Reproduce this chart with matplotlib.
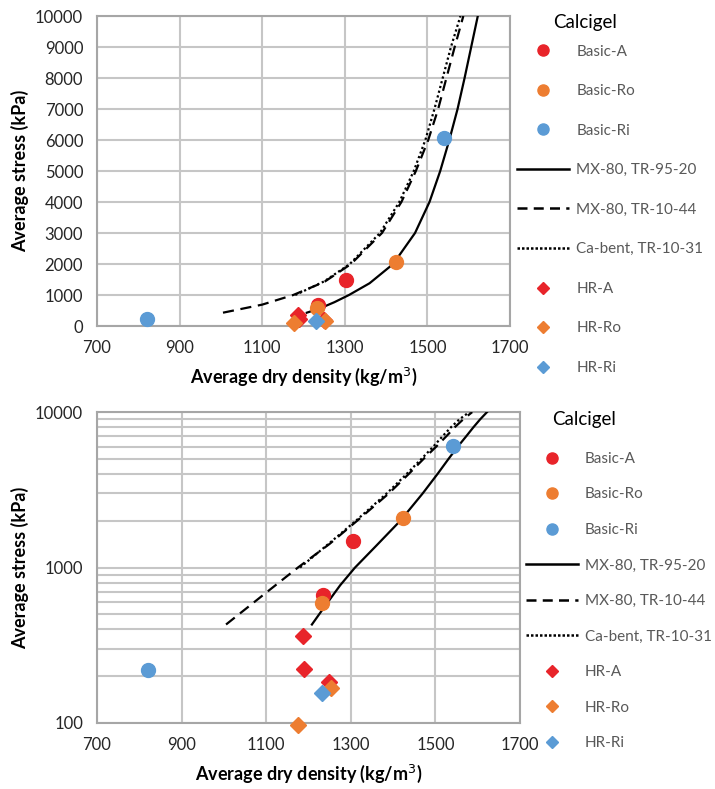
import numpy as np
import matplotlib
matplotlib.use('Agg')
import matplotlib.pyplot as plt
from matplotlib.lines import Line2D

plt.rcParams['font.family'] = ['Lato', 'DejaVu Sans']

# Measured points (dry density kg/m3, average stress kPa)
basic_a_x = [1304, 1235]
basic_a_y = [1480, 670]
basic_ro_x = [1423, 1233]
basic_ro_y = [2070, 594]
basic_ri_x = [820, 1541]
basic_ri_y = [219, 6050]
hr_a_x = [1187, 1190, 1249]
hr_a_y = [364, 223, 184]
hr_ro_x = [1253, 1176]
hr_ro_y = [169, 97]
hr_ri_x = [1231]
hr_ri_y = [157]

# Reference curves
tr9520_x = [1208, 1240, 1275, 1310, 1360, 1417, 1470, 1505, 1531, 1553, 1573, 1590, 1606, 1622]
tr9520_y = [430, 570, 770, 1000, 1380, 2000, 3000, 4000, 5000, 6000, 7000, 8000, 9000, 10000]
tr1044_x = [1005, 1100, 1175, 1250, 1315, 1390, 1437, 1472, 1502, 1526, 1546, 1566, 1587]
tr1044_y = [430, 690, 1000, 1420, 2000, 3000, 4000, 5000, 6000, 7000, 8000, 9000, 10000]
tr1031_x = [1180, 1250, 1312, 1385, 1432, 1467, 1495, 1517, 1537, 1557, 1580]
tr1031_y = [1000, 1440, 2000, 3000, 4000, 5000, 6000, 7000, 8000, 9000, 10000]

x_ticks = [700, 900, 1100, 1300, 1500, 1700]
lin_ticks = list(range(0, 10001, 1000))

RED = '#e8242a'
ORANGE = '#ed7d31'
BLUE = '#5b9bd5'
GRID = '#c6c6c6'
EDGE = '#a6a6a6'

fig = plt.figure(figsize=(7.15, 7.89), dpi=100)
ax1 = fig.add_axes([0.1357, 0.5868, 0.5776, 0.3929])
ax2 = fig.add_axes([0.1357, 0.0837, 0.5916, 0.3940])


def draw(ax):
    ax.plot(tr9520_x, tr9520_y, color='black', lw=1.6, zorder=3)
    ax.plot(tr1044_x, tr1044_y, color='black', lw=1.6, dashes=(5, 3), zorder=3)
    ax.plot(tr1031_x, tr1031_y, color='black', lw=1.6, dashes=(1, 1.2), zorder=3)
    ax.plot(basic_a_x, basic_a_y, 'o', color=RED, ms=10, zorder=4, clip_on=False)
    ax.plot(basic_ro_x, basic_ro_y, 'o', color=ORANGE, ms=10, zorder=4, clip_on=False)
    ax.plot(basic_ri_x, basic_ri_y, 'o', color=BLUE, ms=10, zorder=4, clip_on=False)
    ax.plot(hr_a_x, hr_a_y, 'D', color=RED, ms=8, zorder=4, clip_on=False)
    ax.plot(hr_ro_x, hr_ro_y, 'D', color=ORANGE, ms=8, zorder=4, clip_on=False)
    ax.plot(hr_ri_x, hr_ri_y, 'D', color=BLUE, ms=8, zorder=4, clip_on=False)

    ax.set_xlim(700, 1700)
    ax.set_xticks(x_ticks)
    ax.grid(True, which='both', color=GRID, lw=1.5)
    ax.set_axisbelow(True)
    for s in ax.spines.values():
        s.set_color(EDGE)
        s.set_linewidth(1.5)
    ax.tick_params(which='both', length=0, labelsize=12, colors='#262626', pad=10)
    ax.set_xlabel('Average dry density (kg/m$^3$)', fontsize=13, fontweight='bold',
                  labelpad=7)
    ax.set_ylabel('Average stress (kPa)', fontsize=13, fontweight='bold', labelpad=4)


draw(ax1)
ax1.set_ylim(0, 10000)
ax1.set_yticks(lin_ticks)

draw(ax2)
ax2.set_yscale('log')
ax2.set_ylim(100, 10000)
ax2.set_yticks([100, 1000, 10000])
ax2.set_yticklabels(['100', '1000', '10000'])
ax2.yaxis.set_minor_formatter(matplotlib.ticker.NullFormatter())
ax2.xaxis.grid(False, which='minor')


def handles():
    return [
        Line2D([], [], ls='none', marker='o', color=RED, ms=8),
        Line2D([], [], ls='none', marker='o', color=ORANGE, ms=8),
        Line2D([], [], ls='none', marker='o', color=BLUE, ms=8),
        Line2D([], [], color='black', lw=1.8),
        Line2D([], [], color='black', lw=1.8, dashes=(4, 2.5)),
        Line2D([], [], color='black', lw=1.8, dashes=(1, 0.8)),
        Line2D([], [], ls='none', marker='D', color=RED, ms=6),
        Line2D([], [], ls='none', marker='D', color=ORANGE, ms=6),
        Line2D([], [], ls='none', marker='D', color=BLUE, ms=6),
    ]


labels = ['Basic-A', 'Basic-Ro', 'Basic-Ri', 'MX-80, TR-95-20', 'MX-80, TR-10-44',
          'Ca-bent, TR-10-31', 'HR-A', 'HR-Ro', 'HR-Ri']

leg1 = fig.legend(handles(), labels, loc='upper left', bbox_to_anchor=(0.715, 0.951),
                  frameon=False, fontsize=11, labelspacing=1.67, handlelength=3.4,
                  handletextpad=0.45, borderaxespad=0)
leg2 = fig.legend(handles(), labels, loc='upper left', bbox_to_anchor=(0.727, 0.435),
                  frameon=False, fontsize=11, labelspacing=1.41, handlelength=3.4,
                  handletextpad=0.45, borderaxespad=0)
for leg in (leg1, leg2):
    for t in leg.get_texts():
        t.set_color('#595959')

fig.text(0.773, 0.972, 'Calcigel', fontsize=13.5, va='center', ha='left')
fig.text(0.772, 0.468, 'Calcigel', fontsize=13.5, va='center', ha='left')

fig.savefig('out.png', dpi=100)
